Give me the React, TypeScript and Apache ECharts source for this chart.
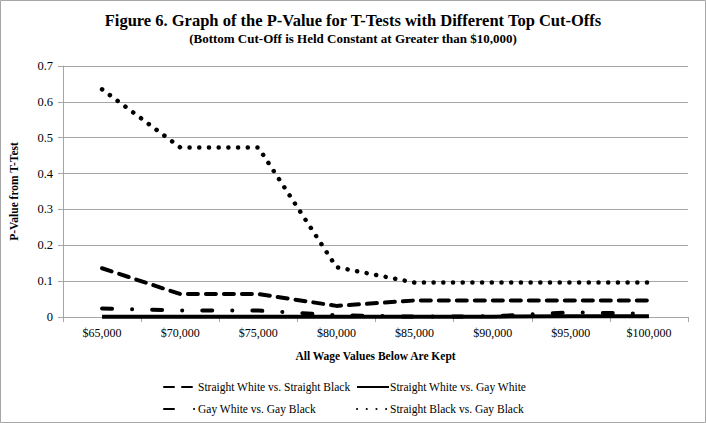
import React, { useEffect, useRef } from "react";
import * as echarts from "echarts";

const categories = ["$65,000", "$70,000", "$75,000", "$80,000", "$85,000", "$90,000", "$95,000", "$100,000"];
const straightWhiteVsStraightBlack = [0.136, 0.064, 0.064, 0.031, 0.046, 0.046, 0.046, 0.046];
const straightWhiteVsGayWhite = [0.001, 0.001, 0.001, 0.001, 0.001, 0.001, 0.002, 0.002];
const gayWhiteVsGayBlack = [0.024, 0.018, 0.018, 0.005, 0.001, 0.002, 0.013, 0.009];
const straightBlackVsGayBlack = [0.635, 0.473, 0.473, 0.139, 0.096, 0.096, 0.096, 0.096];
const yTicks = [0, 0.1, 0.2, 0.3, 0.4, 0.5, 0.6, 0.7];

const FONT = "Liberation Serif";

export default function App() {
  const ref = useRef<HTMLDivElement>(null);
  useEffect(() => {
    if (!ref.current) return;
    const chart = echarts.init(ref.current, null, { renderer: "svg" });
    const lineBase = { type: "line", symbol: "none", smooth: false, z: 3 };
    const legendCommon = {
      orient: "vertical",
      top: 381,
      height: 60,
      padding: 0,
      itemWidth: 32,
      itemHeight: 6,
      itemGap: 10,
      itemStyle: { opacity: 0 },
    };
    chart.setOption({
      animation: false,
      backgroundColor: "#ffffff",
      textStyle: { fontFamily: FONT, color: "#000" },
      title: [
        {
          text: "Figure 6. Graph of the P-Value for T-Tests with Different Top Cut-Offs",
          left: "center",
          top: 7,
          textStyle: { fontFamily: FONT, fontSize: 16.5, fontWeight: "bold", color: "#000" },
        },
        {
          text: "(Bottom Cut-Off is Held Constant at Greater than $10,000)",
          left: "center",
          top: 27,
          textStyle: { fontFamily: FONT, fontSize: 13, fontWeight: "bold", color: "#000" },
        },
      ],
      grid: { left: 63, right: 18, top: 66, bottom: 106, containLabel: false },
      xAxis: {
        type: "category",
        data: categories,
        boundaryGap: true,
        name: "All Wage Values Below Are Kept",
        nameLocation: "middle",
        nameGap: 33,
        nameTextStyle: { fontFamily: FONT, fontSize: 11.5, fontWeight: "bold", color: "#000" },
        axisLine: { lineStyle: { color: "#a6a6a6", width: 1 } },
        axisTick: { show: true, length: 5, lineStyle: { color: "#a6a6a6" } },
        axisLabel: { fontFamily: FONT, fontSize: 12, color: "#000", margin: 10 },
      },
      yAxis: {
        type: "value",
        min: 0,
        max: 0.7,
        interval: 0.1,
        name: "P-Value from T-Test",
        nameLocation: "middle",
        nameGap: 43,
        nameTextStyle: { fontFamily: FONT, fontSize: 11.5, fontWeight: "bold", color: "#000" },
        axisLine: { show: true, lineStyle: { color: "#a6a6a6", width: 1 } },
        axisTick: { show: true, length: 5, lineStyle: { color: "#a6a6a6" } },
        axisLabel: {
          fontFamily: FONT,
          fontSize: 12.5,
          color: "#000",
          margin: 10,
          formatter: (v: number) => {
            const t = yTicks.find((x) => Math.abs(x - v) < 1e-9);
            return t === undefined ? "" : String(t);
          },
        },
        splitLine: { show: true, lineStyle: { color: "#a6a6a6", width: 1 } },
      },
      legend: [
        {
          ...legendCommon,
          data: ["Straight White vs. Straight Black", "Gay White vs. Gay Black"],
          left: 163,
          textStyle: { fontFamily: FONT, fontSize: 11.5, color: "#000", padding: [0, 0, 0, -3] },
        },
        {
          ...legendCommon,
          data: ["Straight White vs. Gay White", "Straight Black vs. Gay Black"],
          left: 356,
          textStyle: { fontFamily: FONT, fontSize: 11.5, color: "#000", padding: [0, 0, 0, -4] },
        },
      ],
      graphic: [
        {
          type: "rect",
          shape: { x: 0.5, y: 0.5, width: 705, height: 422 },
          style: { fill: "none", stroke: "#a6a6a6", lineWidth: 1 },
          silent: true,
          z: -10,
        },
      ],
      series: [
        {
          ...lineBase,
          name: "Straight White vs. Straight Black",
          data: straightWhiteVsStraightBlack,
          lineStyle: { color: "#000", width: 4, type: [10, 8], cap: "round" },
          itemStyle: { color: "#000" },
        },
        {
          ...lineBase,
          name: "Straight White vs. Gay White",
          data: straightWhiteVsGayWhite,
          lineStyle: { color: "#000", width: 4, type: "solid", cap: "butt" },
          itemStyle: { color: "#000" },
        },
        {
          ...lineBase,
          name: "Gay White vs. Gay Black",
          data: gayWhiteVsGayBlack,
          lineStyle: { color: "#000", width: 4, type: [10, 20, 0.1, 20], cap: "round" },
          itemStyle: { color: "#000" },
        },
        {
          ...lineBase,
          name: "Straight Black vs. Gay Black",
          data: straightBlackVsGayBlack,
          lineStyle: { color: "#000", width: 4.5, type: [0.1, 9.6], cap: "round" },
          itemStyle: { color: "#000" },
        },
      ],
    });
    return () => chart.dispose();
  }, []);
  return (
    <div
      ref={ref}
      style={{ position: "fixed", left: 0, top: 0, width: 706, height: 423, background: "#fff" }}
    />
  );
}
